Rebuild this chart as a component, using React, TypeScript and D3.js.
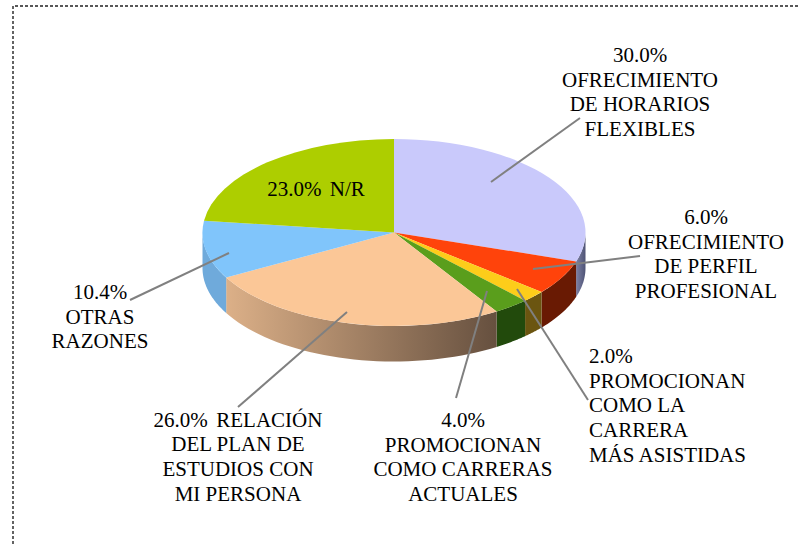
import React from "react";
import * as d3 from "d3";

const categories = [
  "OFRECIMIENTO DE HORARIOS FLEXIBLES",
  "OFRECIMIENTO DE PERFIL PROFESIONAL",
  "PROMOCIONAN COMO LA CARRERA MÁS ASISTIDAS",
  "PROMOCIONAN COMO CARRERAS ACTUALES",
  "RELACIÓN DEL PLAN DE ESTUDIOS CON MI PERSONA",
  "OTRAS RAZONES",
  "N/R",
];
// Share of the pie as drawn in the picture
const sliceValues = [30, 6, 2, 3, 26, 10, 23];
const topColors = ["#c9c9fb", "#ff430b", "#fdcd1a", "#5a9e1c", "#fbc797", "#80c5fb", "#adce00"];
const wallFrom = ["#4f5375", "#691a03", "#6b5510", "#224a0c", "#66503f", "#6faadb", "#6b8000"];
const wallTo = ["#7c80a4", "#691a03", "#6b5510", "#224a0c", "#dcb088", "#6faadb", "#6b8000"];

const labelLines = [
  ["30.0%", "OFRECIMIENTO", "DE HORARIOS", "FLEXIBLES"],
  ["6.0%", "OFRECIMIENTO", "DE PERFIL", "PROFESIONAL"],
  ["2.0%", "PROMOCIONAN", "COMO LA", "CARRERA", "MÁS ASISTIDAS"],
  ["4.0%", "PROMOCIONAN", "COMO CARRERAS", "ACTUALES"],
  ["26.0%  RELACIÓN", "DEL PLAN DE", "ESTUDIOS CON", "MI PERSONA"],
  ["10.4%", "OTRAS", "RAZONES"],
  ["23.0%  N/R"],
];

// Layout of labels and leader lines
const labelX = [640, 706, 589, 463, 238, 100, 316];
const labelY = [62, 224, 363.2, 427, 426.7, 299, 196];
const labelAnchor = ["middle", "middle", "start", "middle", "middle", "middle", "middle"];
const lineHeight = 24.6;
const leaders: ([number, number, number, number] | null)[] = [
  [491, 182, 580, 118],
  [533, 269, 640, 256],
  [517, 289, 588, 400],
  [487, 291, 456, 398],
  [347, 312, 238, 407],
  [229, 253, 130, 300],
  null,
];

const cx = 394;
const cy = 232.5;
const rx = 191.5;
const ry = 93.5;
const depth = 35.5;

const pie = d3.pie<number>().sort(null).startAngle(0).endAngle(2 * Math.PI);
const arcs = pie(sliceValues);
const arcGen = d3.arc<d3.PieArcDatum<number>>().innerRadius(0).outerRadius(rx);
const xAt = (a: number) => cx + rx * Math.sin(a);
const yAt = (a: number) => cy - ry * Math.cos(a);

function wallPath(a0: number, a1: number) {
  const s = Math.max(a0, Math.PI / 2);
  const e = Math.min(a1, (3 * Math.PI) / 2);
  if (e <= s) return null;
  const angles = d3.range(0, 41).map((i) => s + ((e - s) * i) / 40);
  const pts: [number, number][] = [
    ...angles.map((a) => [xAt(a), yAt(a)] as [number, number]),
    ...angles.slice().reverse().map((a) => [xAt(a), yAt(a) + depth] as [number, number]),
  ];
  return { d: d3.line()(pts) + "Z", x0: d3.min(pts, (p) => p[0])!, x1: d3.max(pts, (p) => p[0])! };
}

export default function App() {
  const walls = arcs.map((a) => wallPath(a.startAngle, a.endAngle));
  return (
    <svg
      width={799}
      height={544}
      style={{ position: "absolute", left: 0, top: 0, display: "block", background: "#fff" }}
      fontFamily="'Liberation Serif', 'Times New Roman', serif"
    >
      <defs>
        {walls.map((w, i) =>
          w ? (
            <linearGradient key={i} id={`wall${i}`} gradientUnits="userSpaceOnUse" x1={w.x1} x2={w.x0} y1={0} y2={0}>
              <stop offset="0" stopColor={wallFrom[i]} />
              <stop offset="1" stopColor={wallTo[i]} />
            </linearGradient>
          ) : null
        )}
      </defs>
      <path d="M13,544V6H799" fill="none" stroke="#222" strokeWidth={1.4} strokeDasharray="3 2" />
      {walls.map((w, i) => (w ? <path key={i} d={w.d} fill={`url(#wall${i})`} /> : null))}
      <g transform={`translate(${cx},${cy}) scale(1,${ry / rx})`}>
        {arcs.map((a, i) => (
          <path key={categories[i]} d={arcGen(a)!} fill={topColors[i]} />
        ))}
      </g>
      {leaders.map((l, i) =>
        l ? <line key={i} x1={l[0]} y1={l[1]} x2={l[2]} y2={l[3]} stroke="#808080" strokeWidth={2} /> : null
      )}
      {labelLines.map((lines, i) => (
        <text key={i} fontSize={21} fill="#000" textAnchor={labelAnchor[i]} xmlSpace="preserve">
          {lines.map((t, j) => (
            <tspan key={j} x={labelX[i]} y={labelY[i] + j * lineHeight} wordSpacing={t.includes("  ") ? -1 : 0}>
              {t}
            </tspan>
          ))}
        </text>
      ))}
    </svg>
  );
}
